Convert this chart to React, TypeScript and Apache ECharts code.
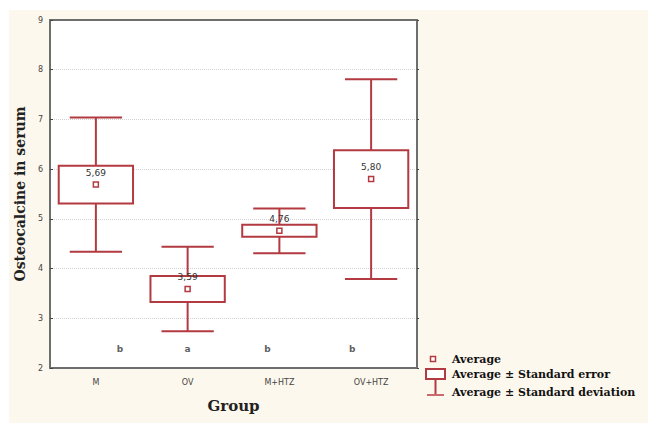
import React, { useEffect, useRef } from "react";
import * as echarts from "echarts";

const groups = ["M", "OV", "M+HTZ", "OV+HTZ"];
const means = [5.69, 3.59, 4.76, 5.8];
const meanLabels = ["5,69", "3,59", "4,76", "5,80"];
const stdErrors = [0.38, 0.26, 0.12, 0.58];
const stdDeviations = [1.35, 0.85, 0.45, 2.01];
const letters = ["b", "a", "b", "b"];
const letterLevel = 2.38;
const legendLabels = [
  "Average",
  "Average ± Standard error",
  "Average ± Standard deviation",
];

const RED = "#b23a40";
const FRAME = "#6e6e6e";
const letterOffsets = [24, 0, -12, -19];

export default function App() {
  const ref = useRef<HTMLDivElement>(null);
  useEffect(() => {
    if (!ref.current) return;
    const chart = echarts.init(ref.current, null, { renderer: "svg" });
    const boxData = groups.map((_, i) => [i, means[i], stdErrors[i], stdDeviations[i]]);
    const option: any = {
      animation: false,
      backgroundColor: "#ffffff",
      grid: { left: 50, right: 231, top: 20, bottom: 55, show: true, backgroundColor: "#ffffff", borderWidth: 0 },
      xAxis: [
        {
          type: "category",
          data: groups,
          boundaryGap: true,
          name: "Group",
          nameLocation: "middle",
          nameGap: 30,
          nameTextStyle: { fontFamily: "DejaVu Serif", fontWeight: "bold", fontSize: 15, color: "#222" },
          axisLine: { lineStyle: { color: FRAME, width: 2 } },
          axisTick: { alignWithLabel: true, inside: true, length: 3, lineStyle: { color: "#444" } },
          axisLabel: { fontFamily: "DejaVu Sans", fontSize: 8, color: "#444", margin: 10 },
          splitLine: { show: false },
        },
        {
          type: "category",
          data: groups,
          position: "top",
          boundaryGap: true,
          axisLine: { lineStyle: { color: FRAME, width: 2 } },
          axisTick: { alignWithLabel: true, inside: true, length: 3, lineStyle: { color: "#444" } },
          axisLabel: { show: false },
          splitLine: { show: false },
        },
      ],
      yAxis: [
        {
          type: "value",
          min: 2,
          max: 9,
          interval: 1,
          name: "Osteocalcine in serum",
          nameLocation: "middle",
          nameGap: 23,
          nameTextStyle: { fontFamily: "DejaVu Serif", fontWeight: "bold", fontSize: 14, color: "#222" },
          axisLine: { show: true, lineStyle: { color: FRAME, width: 2 } },
          axisTick: { show: true, inside: true, length: 3, lineStyle: { color: "#444" } },
          axisLabel: { fontFamily: "DejaVu Sans", fontSize: 8, color: "#444", margin: 7 },
          splitLine: { show: true, lineStyle: { color: "#d2d2d2", type: "dotted", width: 1 } },
        },
        {
          type: "value",
          min: 2,
          max: 9,
          interval: 1,
          position: "right",
          axisLine: { show: true, lineStyle: { color: FRAME, width: 2 } },
          axisTick: { show: true, inside: false, length: 2, lineStyle: { color: "#444" } },
          axisLabel: { show: false },
          splitLine: { show: false },
        },
      ],
      series: [
        {
          type: "custom",
          xAxisIndex: 0,
          yAxisIndex: 0,
          data: boxData,
          renderItem: (params: any, api: any) => {
            const i = api.value(0);
            const m = api.value(1);
            const se = api.value(2);
            const sd = api.value(3);
            const [cx, cy] = api.coord([i, m]);
            const seTop = api.coord([i, m + se])[1];
            const seBot = api.coord([i, m - se])[1];
            const sdTop = api.coord([i, m + sd])[1];
            const sdBot = api.coord([i, m - sd])[1];
            const band = api.size([1, 0])[0];
            const bw = band * 0.81;
            const cw = band * 0.57;
            const ls = { stroke: RED, lineWidth: 2, fill: null };
            return {
              type: "group",
              children: [
                { type: "line", shape: { x1: cx, y1: sdTop, x2: cx, y2: seTop }, style: ls },
                { type: "line", shape: { x1: cx, y1: seBot, x2: cx, y2: sdBot }, style: ls },
                { type: "line", shape: { x1: cx - cw / 2, y1: sdTop, x2: cx + cw / 2, y2: sdTop }, style: ls },
                { type: "line", shape: { x1: cx - cw / 2, y1: sdBot, x2: cx + cw / 2, y2: sdBot }, style: ls },
                {
                  type: "rect",
                  shape: { x: cx - bw / 2, y: seTop, width: bw, height: seBot - seTop },
                  style: { stroke: RED, lineWidth: 2, fill: "#ffffff" },
                },
                {
                  type: "rect",
                  shape: { x: cx - 2.5, y: cy - 2.5, width: 5, height: 5 },
                  style: { stroke: RED, lineWidth: 1.5, fill: "#ffffff" },
                },
                {
                  type: "text",
                  style: {
                    text: meanLabels[params.dataIndex],
                    x: cx,
                    y: cy - 12,
                    align: "center",
                    verticalAlign: "middle",
                    fill: "#333",
                    font: "9px 'DejaVu Sans'",
                  },
                },
              ],
            };
          },
          z: 3,
        },
        {
          type: "scatter",
          xAxisIndex: 0,
          yAxisIndex: 0,
          symbolSize: 0,
          data: groups.map((_, i) => ({
            value: [i, letterLevel],
            label: { offset: [letterOffsets[i], 0] },
          })),
          label: {
            show: true,
            position: "inside",
            formatter: (p: any) => letters[p.dataIndex],
            fontFamily: "DejaVu Sans",
            fontSize: 9,
            fontWeight: "bold",
            color: "#333",
          },
          silent: true,
          z: 4,
        },
      ],
      graphic: [
        {
          type: "rect",
          left: 9,
          top: 10,
          shape: { width: 639, height: 413 },
          style: { fill: "#fdf8ed" },
          z: -10,
          silent: true,
        },
        {
          type: "rect",
          shape: { x: 50, y: 20, width: 367, height: 348 },
          style: { fill: "#ffffff" },
          z: -9,
          silent: true,
        },
        {
          type: "rect",
          shape: { x: 430.5, y: 356.5, width: 5, height: 5 },
          style: { stroke: RED, lineWidth: 1.5, fill: "#ffffff" },
          z: 10,
        },
        {
          type: "rect",
          shape: { x: 426, y: 369, width: 19, height: 10 },
          style: { stroke: RED, lineWidth: 2, fill: "#ffffff" },
          z: 10,
        },
        {
          type: "line",
          shape: { x1: 435.5, y1: 379, x2: 435.5, y2: 395 },
          style: { stroke: RED, lineWidth: 2 },
          z: 10,
        },
        {
          type: "line",
          shape: { x1: 427, y1: 395, x2: 444, y2: 395 },
          style: { stroke: "#c86a6e", lineWidth: 2 },
          z: 10,
        },
        ...legendLabels.map((t, i) => ({
          type: "text",
          x: 452,
          y: [359, 374, 392][i],
          style: {
            text: t,
            fill: "#111",
            font: "bold 11px 'DejaVu Serif'",
            verticalAlign: "middle",
            align: "left",
          },
          z: 10,
        })),
      ],
    };
    chart.setOption(option);
    return () => chart.dispose();
  }, []);
  return (
    <div
      ref={ref}
      style={{ position: "fixed", left: 0, top: 0, width: 648, height: 423, background: "#ffffff" }}
    />
  );
}
